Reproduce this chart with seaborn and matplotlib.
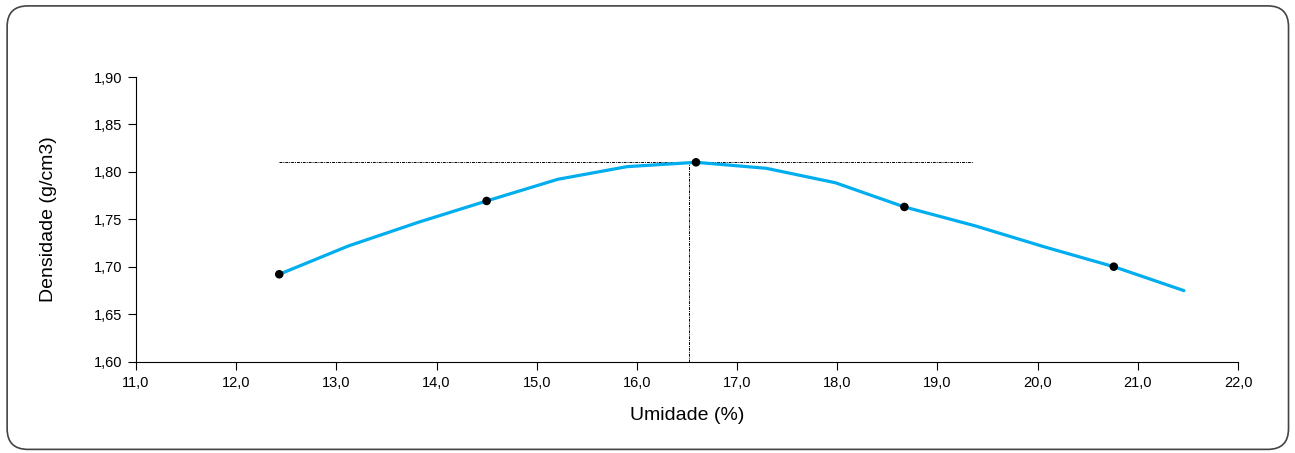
import matplotlib
matplotlib.use("Agg")
import matplotlib.pyplot as plt
import seaborn as sns
import pandas as pd
from matplotlib.patches import FancyBboxPatch
from matplotlib.ticker import FuncFormatter

# Fitted curve (umidade %, densidade g/cm3)
curve_x = [12.43, 13.12, 13.82, 14.50, 15.21, 15.90, 16.59, 17.29, 17.98, 18.67, 19.38, 20.06, 20.76, 21.46]
curve_y = [1.6923, 1.7221, 1.7471, 1.7695, 1.7923, 1.8056, 1.8102, 1.8039, 1.7887, 1.7632, 1.7432, 1.7214, 1.7003, 1.6751]
# Measured points
point_x = [12.43, 14.50, 16.59, 18.67, 20.76]
point_y = [1.6923, 1.7695, 1.8102, 1.7632, 1.7003]
# Reference lines (optimum)
opt_density = 1.81
opt_moisture = 16.52
hline_range = [12.43, 19.35]

x_ticks = [11, 12, 13, 14, 15, 16, 17, 18, 19, 20, 21, 22]
y_ticks = [1.60, 1.65, 1.70, 1.75, 1.80, 1.85, 1.90]

sns.set_theme(style="ticks")
plt.rcParams["font.family"] = ["Liberation Sans", "DejaVu Sans"]
plt.rcParams["text.color"] = "black"
plt.rcParams["axes.labelcolor"] = "black"
plt.rcParams["xtick.color"] = "black"
plt.rcParams["ytick.color"] = "black"

fig = plt.figure(figsize=(12.95, 4.53), dpi=100)
ax = fig.add_axes([0.105, 0.201, 0.851, 0.629])

border = FancyBboxPatch((0.0055, 0.008), 0.9895, 0.979,
                        boxstyle="round,pad=0,rounding_size=0.016",
                        transform=fig.transFigure, facecolor="none",
                        edgecolor="#444444", linewidth=1.2,
                        mutation_aspect=1295 / 453)
fig.patches.append(border)

df_curve = pd.DataFrame({"x": curve_x, "y": curve_y})
df_pts = pd.DataFrame({"x": point_x, "y": point_y})

ax.plot(hline_range, [opt_density, opt_density], color="black", lw=0.7,
        linestyle=(0, (3, 1, 1, 1)), zorder=1)
ax.plot([opt_moisture, opt_moisture], [1.60, opt_density], color="black", lw=0.7,
        linestyle=(0, (3, 1, 1, 1)), zorder=1)

sns.lineplot(data=df_curve, x="x", y="y", ax=ax, color="#00AEEF", lw=2.3,
             sort=False, zorder=2)
sns.scatterplot(data=df_pts, x="x", y="y", ax=ax, color="black", s=38,
                edgecolor="none", zorder=3)

ax.set_xlim(11, 22)
ax.set_ylim(1.60, 1.90)
ax.set_xticks(x_ticks)
ax.set_yticks(y_ticks)
ax.xaxis.set_major_formatter(FuncFormatter(lambda v, p: f"{v:.1f}".replace(".", ",")))
ax.yaxis.set_major_formatter(FuncFormatter(lambda v, p: f"{v:.2f}".replace(".", ",")))
ax.tick_params(axis="both", labelsize=10.5, labelcolor="black", length=6, width=0.8,
               color="black", direction="out", pad=4)
for s in ["top", "right"]:
    ax.spines[s].set_visible(False)
for s in ["left", "bottom"]:
    ax.spines[s].set_color("black")
    ax.spines[s].set_linewidth(0.8)

ax.set_xlabel("Umidade (%)", fontsize=14, labelpad=12, color="black")
ax.set_ylabel("Densidade (g/cm3)", fontsize=14, labelpad=26, color="black")

fig.savefig("out.png", dpi=100, facecolor="white")
